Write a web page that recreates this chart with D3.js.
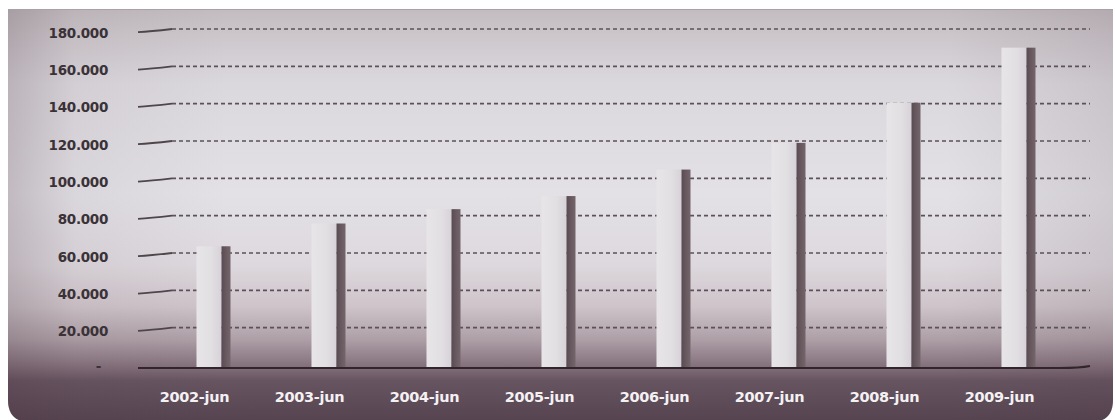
<!DOCTYPE html>
<html><head><meta charset="utf-8">
<script src="https://cdn.jsdelivr.net/npm/d3@7"></script>
<style>body{margin:0;background:#fff;} svg{display:block}</style>
</head><body><svg id="c" width="1115" height="420"></svg>
<script>
const categories = ["2002-jun","2003-jun","2004-jun","2005-jun","2006-jun","2007-jun","2008-jun","2009-jun"];
const values = [63600, 75800, 83500, 90500, 104700, 119000, 140500, 170000];
const yTicks = [0, 20000, 40000, 60000, 80000, 100000, 120000, 140000, 160000, 180000];

const svg = d3.select("#c");
const defs = svg.append("defs");

const bg = defs.append("linearGradient").attr("id","bg").attr("x1",0).attr("y1",0).attr("x2",0).attr("y2",1);
[[0,"#c2bbc0"],[0.06,"#ccc6cb"],[0.18,"#dbd8dd"],[0.45,"#e3e1e6"],[0.62,"#ddd8dd"],[0.72,"#cec4ca"],[0.80,"#ae9fa7"],[0.86,"#87747f"],[0.90,"#675461"],[1,"#564350"]]
  .forEach(s => bg.append("stop").attr("offset", s[0]).attr("stop-color", s[1]));

const vg = defs.append("linearGradient").attr("id","vg").attr("x1",0).attr("y1",0).attr("x2",1).attr("y2",0);
[[0,"rgba(70,50,60,0.22)"],[0.06,"rgba(70,50,60,0.06)"],[0.2,"rgba(70,50,60,0)"],[0.85,"rgba(70,50,60,0)"],[1,"rgba(70,50,60,0.12)"]]
  .forEach(s => vg.append("stop").attr("offset", s[0]).attr("stop-color", s[1]));

const barL = defs.append("linearGradient").attr("id","barL").attr("x1",0).attr("y1",0).attr("x2",1).attr("y2",0);
[[0,"#e8e5e8"],[0.6,"#e2dfe3"],[1,"#d6d2d7"]].forEach(s => barL.append("stop").attr("offset", s[0]).attr("stop-color", s[1]));
const barD = defs.append("linearGradient").attr("id","barD").attr("x1",0).attr("y1",0).attr("x2",1).attr("y2",0);
[[0,"#594b53"],[0.5,"#68595f"],[1,"#74656c"]].forEach(s => barD.append("stop").attr("offset", s[0]).attr("stop-color", s[1]));

// panel
const px0 = 8, py0 = 9, px1 = 1113, py1 = 422, r = 22;
const panelPath = `M${px0},${py0}H${px1}V${py1-r}Q${px1},${py1} ${px1-r},${py1}H${px0+r}Q${px0},${py1} ${px0},${py1-r}Z`;
svg.append("path").attr("d", panelPath).attr("fill", "url(#bg)");
svg.append("path").attr("d", panelPath).attr("fill", "url(#vg)");
svg.append("line").attr("x1",px0).attr("x2",px1).attr("y1",py0+0.5).attr("y2",py0+0.5).attr("stroke","#aaa1a7").attr("stroke-width",1);

const y = d3.scaleLinear().domain([0, 180000]).range([365, 29]);
const x = d3.scaleBand().domain(categories).range([137, 1057]).paddingInner(0).paddingOuter(0);

// gridlines
const grid = svg.append("g");
yTicks.filter(d => d > 0).forEach(d => {
  const yy = y(d);
  grid.append("path").attr("d", `M138,${yy+3.2}Q150,${yy+2.5} 172,${yy}`).attr("fill","none").attr("stroke","#4e464b").attr("stroke-width",1.8);
  grid.append("line").attr("x1",172).attr("x2",1090).attr("y1",yy).attr("y2",yy)
    .attr("stroke","#5a5257").attr("stroke-width",1.7).attr("stroke-dasharray","4,3");
});

// y axis labels
const yAxis = d3.axisLeft(y).tickValues(yTicks).tickSize(0).tickPadding(0)
  .tickFormat(d => d === 0 ? "-" : d3.format(",")(d).replace(/,/g, "."));
const ya = svg.append("g").attr("transform", "translate(108,4)").call(yAxis);
ya.select(".domain").remove();
ya.selectAll("text").attr("fill", "#3a3237").style("font-family", "'DejaVu Sans', sans-serif")
  .style("font-weight", "bold").style("font-size", "13.5px").attr("letter-spacing", "-0.3");
ya.selectAll(".tick").filter(d => d === 0).select("text").attr("x", -7).attr("dy", "0.1em");

// baseline
svg.append("path").attr("d", `M138,${y(0)+3}H1060Q1080,${y(0)+3} 1090,${y(0)+1}`).attr("fill","none")
  .attr("stroke","#2f252b").attr("stroke-width",2.2);

// bars
const bars = svg.append("g");
categories.forEach((c, i) => {
  const cx = x(c) + x.bandwidth() / 2;
  const top = y(values[i]);
  const bot = y(0) + 2;
  bars.append("rect").attr("x", cx + 2).attr("y", top).attr("width", 25).attr("height", bot - top).attr("fill", "url(#barL)");
  bars.append("rect").attr("x", cx + 27).attr("y", top).attr("width", 9).attr("height", bot - top).attr("fill", "url(#barD)");
});

// x axis labels
const xAxis = d3.axisBottom(x).tickSize(0).tickPadding(0);
const xa = svg.append("g").attr("transform", "translate(0,392)").call(xAxis);
xa.select(".domain").remove();
xa.selectAll("text").attr("fill", "#f4f1f3").style("font-family", "'DejaVu Sans', sans-serif")
  .style("font-weight", "bold").style("font-size", "14.5px").attr("letter-spacing", "-0.3");
</script></body></html>
